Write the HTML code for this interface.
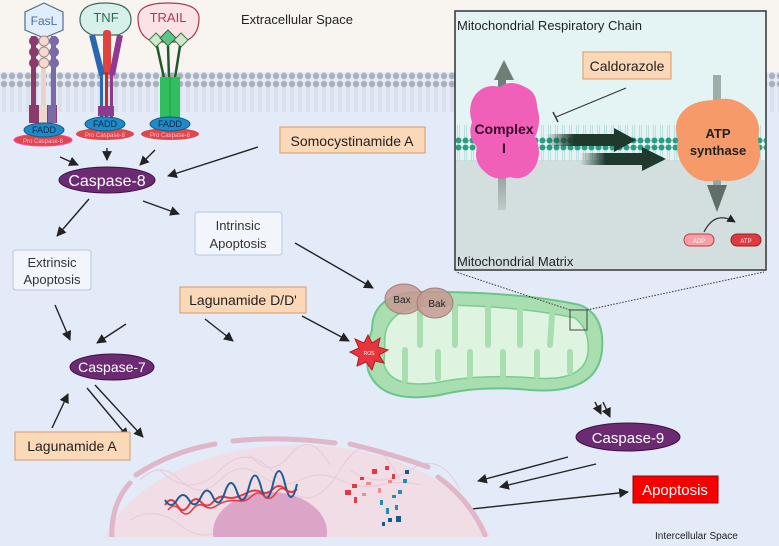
<!DOCTYPE html>
<html><head><meta charset="utf-8"><style>
html,body{margin:0;padding:0;background:#fff;width:779px;height:546px;overflow:hidden}
svg{display:block}
text{font-family:"Liberation Sans",sans-serif}
</style></head><body>
<svg width="779" height="546" viewBox="0 0 779 546" xmlns="http://www.w3.org/2000/svg">
<defs>
<marker id="ah" viewBox="0 0 10 10" refX="9" refY="5" markerWidth="7" markerHeight="7" orient="auto"><path d="M0,0 L10,5 L0,10 z" fill="#222"/></marker>
<pattern id="dots" x="0" y="0" width="8" height="40" patternUnits="userSpaceOnUse">
<circle cx="4" cy="4" r="3.2" fill="#a9b0b8"/><line x1="3" y1="7" x2="3" y2="33" stroke="#c3c8ce" stroke-width="0.6"/><line x1="5" y1="7" x2="5" y2="33" stroke="#c3c8ce" stroke-width="0.6"/><circle cx="4" cy="36" r="3.2" fill="#a9b0b8"/></pattern>
<pattern id="tdots" x="0" y="0" width="7" height="36" patternUnits="userSpaceOnUse">
<circle cx="3.5" cy="3.5" r="3" fill="#2a9d84"/><line x1="2.5" y1="6" x2="2.5" y2="30" stroke="#9fd3d6" stroke-width="0.6"/><line x1="4.5" y1="6" x2="4.5" y2="30" stroke="#9fd3d6" stroke-width="0.6"/><circle cx="3.5" cy="32.5" r="3" fill="#2a9d84"/></pattern>
<clipPath id="nuc"><rect x="0" y="0" width="779" height="537"/></clipPath>
<linearGradient id="fade" x1="0" x2="1"><stop offset="0" stop-color="#1f3a2c" stop-opacity="0"/><stop offset="0.4" stop-color="#1f3a2c"/></linearGradient>
<linearGradient id="gup" x1="0" y1="1" x2="0" y2="0"><stop offset="0" stop-color="#6f7f77" stop-opacity="0.2"/><stop offset="0.5" stop-color="#6f7f77"/></linearGradient>
</defs>
<rect width="779" height="546" fill="#e3eaf8"/>
<rect width="779" height="72" fill="#f8f5f1"/>
<rect x="0" y="72" width="779" height="40" fill="url(#dots)"/>
<text x="241" y="24" font-size="13" fill="#222">Extracellular Space</text>

<g>
<polygon points="44,3 63,12 63,30 44,38 25,30 25,12" fill="#dfeefa" stroke="#556a8a" stroke-width="1.2"/>
<text x="44" y="25" font-size="12" fill="#4a6fa0" text-anchor="middle">FasL</text>
<rect x="31" y="36" width="5" height="85" fill="#8b3a6c"/><rect x="41" y="36" width="5" height="85" fill="#e9d2c8"/><rect x="51" y="36" width="5" height="85" fill="#7b6aa8"/>
<g fill="#8b3a6c"><ellipse cx="34" cy="41" rx="5" ry="5"/><ellipse cx="34" cy="52" rx="5" ry="5"/><ellipse cx="34" cy="63" rx="5" ry="5"/></g>
<g fill="#f0dccf" stroke="#a88"><ellipse cx="44" cy="41" rx="5" ry="5"/><ellipse cx="44" cy="52" rx="5" ry="5"/><ellipse cx="44" cy="63" rx="5" ry="5"/></g>
<g fill="#7b6aa8"><ellipse cx="54" cy="41" rx="5" ry="5"/><ellipse cx="54" cy="52" rx="5" ry="5"/><ellipse cx="54" cy="63" rx="5" ry="5"/></g>
<rect x="29" y="105" width="28" height="18" fill="#8b3a6c"/><rect x="39" y="105" width="8" height="18" fill="#eed8cc"/><rect x="48" y="105" width="8" height="18" fill="#7b6aa8"/>
</g>
<g>
<path d="M80,20 Q80,3 105,3 Q131,3 131,20 Q131,30 118,35 L92,35 Q80,30 80,20z" fill="#d8f0ea" stroke="#3b6a5a" stroke-width="1.2"/>
<text x="106" y="22" font-size="13" fill="#2e6b4f" text-anchor="middle">TNF</text>
<rect x="103" y="30" width="8" height="45" rx="3" fill="#e0433e"/>
<line x1="92" y1="35" x2="102" y2="75" stroke="#2a67b0" stroke-width="6"/><line x1="120" y1="35" x2="112" y2="75" stroke="#8e3a8e" stroke-width="6"/>
<rect x="100" y="72" width="3" height="45" fill="#2a67b0"/><rect x="105" y="72" width="3" height="45" fill="#c0302a"/><rect x="110" y="72" width="3" height="45" fill="#8e3a8e"/>
<rect x="98" y="106" width="16" height="10" fill="#8e3a8e"/>
</g>
<g>
<path d="M138,18 Q138,3 168,3 Q199,3 199,18 Q199,38 182,42 L155,42 Q138,38 138,18z" fill="#fbe2e6" stroke="#a83a4e" stroke-width="1.2"/>
<text x="168" y="22" font-size="13" fill="#b03a52" text-anchor="middle">TRAIL</text>
<polygon points="156,33 163,40 156,47 149,40" fill="#cfe9cf" stroke="#3a7a3a"/><polygon points="168,30 176,38 168,46 160,38" fill="#5dc48a" stroke="#2a6a3a"/><polygon points="181,33 188,40 181,47 174,40" fill="#cfe9cf" stroke="#3a7a3a"/>
<line x1="157" y1="46" x2="164" y2="78" stroke="#1e5a2a" stroke-width="2.5"/><line x1="168" y1="46" x2="169" y2="78" stroke="#1e5a2a" stroke-width="2.5"/><line x1="180" y1="46" x2="175" y2="78" stroke="#1e5a2a" stroke-width="2.5"/>
<rect x="160" y="77" width="20" height="42" fill="#2fbf5e"/><line x1="170" y1="77" x2="170" y2="119" stroke="#1f9a48"/>
</g>
<g font-size="9" text-anchor="middle">
<ellipse cx="43" cy="140" rx="29" ry="6" fill="#e0474b" stroke="#f4a"/><text x="43" y="143" font-size="6" fill="#fbd">Pro Caspase-8</text>
<ellipse cx="44" cy="130" rx="20" ry="7" fill="#1f8ac6" stroke="#145a8a"/><text x="44" y="133" fill="#0d2a4a">FADD</text>
<ellipse cx="105" cy="134" rx="29" ry="6" fill="#e0474b"/><text x="105" y="137" font-size="6" fill="#fbd">Pro Caspase-8</text>
<ellipse cx="105" cy="124" rx="20" ry="7" fill="#1f8ac6" stroke="#145a8a"/><text x="105" y="127" fill="#0d2a4a">FADD</text>
<ellipse cx="170" cy="134" rx="29" ry="6" fill="#e0474b"/><text x="170" y="137" font-size="6" fill="#fbd">Pro Caspase-8</text>
<ellipse cx="170" cy="124" rx="20" ry="7" fill="#1f8ac6" stroke="#145a8a"/><text x="170" y="127" fill="#0d2a4a">FADD</text>
</g>

<ellipse cx="107" cy="180" rx="48" ry="13" fill="#6b2a72" stroke="#3e1044"/>
<text x="107" y="186" font-size="16" fill="#fff" text-anchor="middle">Caspase-8</text>
<rect x="280" y="127" width="145" height="26" fill="#fbd8b8" stroke="#d89a6a"/>
<text x="352" y="146" font-size="14" fill="#222" text-anchor="middle">Somocystinamide A</text>

<g stroke="#222" stroke-width="1.4" fill="none" marker-end="url(#ah)">
<line x1="60" y1="157" x2="78" y2="165"/>
<line x1="107" y1="148" x2="107" y2="160"/>
<line x1="155" y1="150" x2="140" y2="165"/>
<line x1="258" y1="147" x2="168" y2="176"/>
<line x1="89" y1="199" x2="57" y2="236"/>
<line x1="143" y1="201" x2="179" y2="214"/>
<line x1="295" y1="243" x2="373" y2="288"/>
<line x1="55" y1="305" x2="70" y2="340"/>
<line x1="126" y1="324" x2="97" y2="343"/>
<line x1="205" y1="319" x2="233" y2="341"/>
<line x1="302" y1="316" x2="349" y2="341"/>
<line x1="52" y1="428" x2="68" y2="394"/>
<line x1="87" y1="388" x2="128" y2="437"/>
<line x1="95" y1="385" x2="143" y2="437"/>
<line x1="595" y1="402" x2="601" y2="414"/>
<line x1="603" y1="402" x2="610" y2="417"/>
<line x1="568" y1="457" x2="478" y2="481"/>
<line x1="596" y1="464" x2="500" y2="487"/>
<line x1="325" y1="505" x2="340" y2="505"/>
<line x1="435" y1="513" x2="628" y2="492"/>
</g>

<rect x="195" y="212" width="87" height="43" rx="3" fill="#f2f6fc" stroke="#b8c8dc"/>
<text x="238" y="230" font-size="13" fill="#333" text-anchor="middle">Intrinsic</text>
<text x="238" y="248" font-size="13" fill="#333" text-anchor="middle">Apoptosis</text>
<rect x="13" y="250" width="78" height="40" rx="3" fill="#f2f6fc" stroke="#b8c8dc"/>
<text x="52" y="267" font-size="13" fill="#333" text-anchor="middle">Extrinsic</text>
<text x="52" y="284" font-size="13" fill="#333" text-anchor="middle">Apoptosis</text>
<rect x="180" y="287" width="126" height="26" fill="#fbd8b8" stroke="#d89a6a"/>
<text x="243" y="305" font-size="14" fill="#222" text-anchor="middle">Lagunamide D/D'</text>
<rect x="15" y="432" width="115" height="28" fill="#fbd8b8" stroke="#d89a6a"/>
<text x="72" y="451" font-size="14" fill="#222" text-anchor="middle">Lagunamide A</text>
<ellipse cx="112" cy="367" rx="42" ry="13" fill="#6b2a72" stroke="#3e1044"/>
<text x="112" y="372" font-size="14" fill="#fff" text-anchor="middle">Caspase-7</text>

<path d="M372,330 Q372,290 430,292 Q520,292 580,305 Q605,315 602,350 Q598,395 530,390 Q480,385 440,395 Q380,405 368,370 Q365,350 372,330z" fill="#a9dfb0" stroke="#6cc48a" stroke-width="2"/>
<path d="M385,335 Q390,305 440,305 Q520,306 575,318 Q590,330 588,352 Q585,382 535,378 Q480,374 440,382 Q392,390 384,365z" fill="#dff4e0" stroke="#7ccb90" stroke-width="1.5"/>
<g stroke="#a9dfb0" stroke-width="6" stroke-linecap="round">
<line x1="420" y1="310" x2="420" y2="345"/><line x1="455" y1="307" x2="455" y2="345"/><line x1="488" y1="308" x2="488" y2="345"/><line x1="520" y1="310" x2="520" y2="345"/><line x1="552" y1="315" x2="550" y2="345"/>
<line x1="405" y1="380" x2="405" y2="350"/><line x1="438" y1="378" x2="438" y2="352"/><line x1="470" y1="376" x2="470" y2="352"/><line x1="503" y1="376" x2="503" y2="352"/><line x1="537" y1="376" x2="537" y2="352"/><line x1="570" y1="372" x2="570" y2="352"/>
</g>
<ellipse cx="404" cy="299" rx="19" ry="15" fill="#c79a93" fill-opacity="0.85" stroke="#a57b72"/>
<ellipse cx="435" cy="303" rx="18" ry="15" fill="#c79a93" fill-opacity="0.85" stroke="#a57b72"/>
<text x="402" y="303" font-size="10" fill="#222" text-anchor="middle">Bax</text>
<text x="437" y="307" font-size="10" fill="#222" text-anchor="middle">Bak</text>
<polygon points="368,335 372,343 380,338 378,347 388,350 379,355 384,363 375,361 372,370 366,362 357,366 359,357 350,352 359,348 355,339 364,343" fill="#e8343c" stroke="#b01c24"/>
<text x="369" y="355" font-size="5" fill="#fff" text-anchor="middle">ROS</text>
<rect x="570" y="310" width="17" height="20" fill="none" stroke="#444"/>
<line x1="570" y1="310" x2="456" y2="272" stroke="#333" stroke-dasharray="1.5,1.5"/>
<line x1="587" y1="310" x2="764" y2="272" stroke="#333" stroke-dasharray="1.5,1.5"/>

<ellipse cx="628" cy="437" rx="52" ry="14" fill="#6b2a72" stroke="#3e1044"/>
<text x="628" y="443" font-size="15" fill="#fff" text-anchor="middle">Caspase-9</text>
<rect x="633" y="476" width="85" height="27" fill="#f70000" stroke="#900"/>
<text x="675" y="495" font-size="15" fill="#fff" text-anchor="middle">Apoptosis</text>
<text x="655" y="539" font-size="10" fill="#222">Intercellular Space</text>

<g clip-path="url(#nuc)">
<ellipse cx="298" cy="570" rx="200" ry="125" fill="#f1dde6"/>
<g fill="none" stroke="#e6c8d6" stroke-width="1.2" opacity="0.8">
<path d="M140,480 q20,-20 40,0 t40,0 t40,-5 t40,5 t40,0 t40,5 t40,0"/><path d="M160,470 q30,30 60,0 t60,10 t60,-10 t60,10"/><path d="M130,520 q25,-15 50,5 t50,0"/><path d="M350,470 q30,20 60,0 t50,20"/><path d="M250,455 q20,25 40,0 t40,10"/>
</g>
<ellipse cx="270" cy="532" rx="57" ry="40" fill="#dca5c8"/>
<g fill="none" stroke="#e0b6c9" stroke-width="5" stroke-linecap="round">
<path d="M112,540 Q110,505 130,483"/><path d="M136,475 Q170,452 215,444"/><path d="M233,441 Q280,436 335,443"/><path d="M350,444 Q395,455 428,467"/><path d="M438,477 Q470,500 485,535"/>
</g>
<path d="M165,505 q6,-10 12,0 t12,0 t12,-3 t12,0 t12,-5 t12,0 t12,-5 t12,0 t12,-3 t12,0 t12,0" fill="none" stroke="#e23a42" stroke-width="2"/>
<path d="M165,500 q6,10 12,0 t12,0 t12,-3 t12,0 t12,-5 t12,0 t12,-5 t12,0 t12,-3 t12,0 t12,0" fill="none" stroke="#1b5d94" stroke-width="2"/>
<path d="M168,510 q6,-8 12,0 t12,0 t12,-4 t12,0 t12,-5 t12,0 t12,-5 t12,0 t12,-3 t12,0" fill="none" stroke="#e23a42" stroke-width="1.5"/>
<g fill="#e23a42"><rect x="352" y="484" width="5" height="4"/><rect x="372" y="469" width="5" height="5"/><rect x="385" y="466" width="4" height="4"/><rect x="354" y="497" width="3" height="6"/><rect x="360" y="477" width="4" height="3"/><rect x="345" y="490" width="6" height="5"/><rect x="392" y="474" width="3" height="5"/></g>
<g fill="#f08a8e"><rect x="366" y="482" width="5" height="3"/><rect x="378" y="488" width="3" height="5"/><rect x="388" y="480" width="4" height="3"/><rect x="362" y="493" width="4" height="3"/></g>
<g fill="#1f8fb0"><rect x="380" y="500" width="3" height="5"/><rect x="392" y="495" width="4" height="3"/><rect x="386" y="508" width="3" height="6"/><rect x="398" y="490" width="4" height="4"/><rect x="395" y="505" width="3" height="5"/><rect x="403" y="479" width="4" height="4"/></g>
<g fill="#145a8a"><rect x="388" y="518" width="4" height="4"/><rect x="396" y="516" width="5" height="6"/><rect x="382" y="522" width="3" height="4"/><rect x="405" y="470" width="4" height="4"/></g>
</g>

<rect x="455" y="11" width="311" height="259" fill="#e4f3f3" stroke="#333" stroke-width="1.5"/>
<rect x="456" y="160" width="309" height="109" fill="#d3dedf"/>
<rect x="456" y="125" width="309" height="36" fill="url(#tdots)"/>
<text x="457" y="30" font-size="13" fill="#222">Mitochondrial Respiratory Chain</text>
<text x="457" y="266" font-size="13" fill="#222">Mitochondrial Matrix</text>
<rect x="498" y="80" width="8" height="130" fill="url(#gup)"/>
<polygon points="494,60 514,60 504,80" fill="#6f7f77" transform="rotate(180 504 70)"/>
<rect x="713" y="75" width="8" height="115" fill="#6f7f77" opacity="0.6"/>
<polygon points="707,185 727,185 717,212" fill="#5f6f67"/>
<path d="M475,95 q10,-12 25,-8 q10,-8 25,0 q12,5 12,20 q5,15 -2,30 q8,15 0,30 q-10,15 -25,10 q-15,5 -25,-5 q-12,-10 -8,-25 q-10,-10 -5,-25 q-5,-15 3,-27z" fill="#f060b8"/>
<text x="504" y="134" font-size="14" font-weight="bold" fill="#3a0a2a" text-anchor="middle">Complex</text>
<text x="504" y="153" font-size="14" font-weight="bold" fill="#3a0a2a" text-anchor="middle">I</text>
<path d="M680,115 q10,-15 35,-15 q20,-5 35,10 q12,10 8,30 q6,20 -5,32 q-15,12 -35,8 q-20,5 -32,-10 q-12,-15 -8,-30 q-5,-15 2,-25z" fill="#f79a6a"/>
<text x="718" y="138" font-size="13" font-weight="bold" fill="#222" text-anchor="middle">ATP</text>
<text x="718" y="155" font-size="13" font-weight="bold" fill="#222" text-anchor="middle">synthase</text>
<rect x="546" y="134" width="70" height="12" fill="url(#fade)"/>
<polygon points="614,128 636,140 614,152" fill="#1f3a2c"/>
<rect x="580" y="153" width="64" height="12" fill="url(#fade)"/>
<polygon points="642,147 666,159 642,171" fill="#1f3a2c"/>
<rect x="583" y="52" width="88" height="27" fill="#fbd8b8" stroke="#d89a6a"/>
<text x="627" y="71" font-size="14" fill="#222" text-anchor="middle">Caldorazole</text>
<line x1="626" y1="88" x2="556" y2="117" stroke="#333" stroke-width="1"/>
<line x1="553" y1="112" x2="558" y2="122" stroke="#333" stroke-width="1.4"/>
<path d="M704,232 Q715,210 735,222" fill="none" stroke="#333" stroke-width="1.2" marker-end="url(#ah)"/>
<rect x="684" y="234" width="30" height="12" rx="6" fill="#f7a0a4" stroke="#c34"/><text x="699" y="243" font-size="6" fill="#fff" text-anchor="middle">ADP</text>
<rect x="731" y="234" width="30" height="12" rx="6" fill="#e03a40" stroke="#922"/><text x="746" y="243" font-size="6" fill="#fff" text-anchor="middle">ATP</text>
</svg>
</body></html>
